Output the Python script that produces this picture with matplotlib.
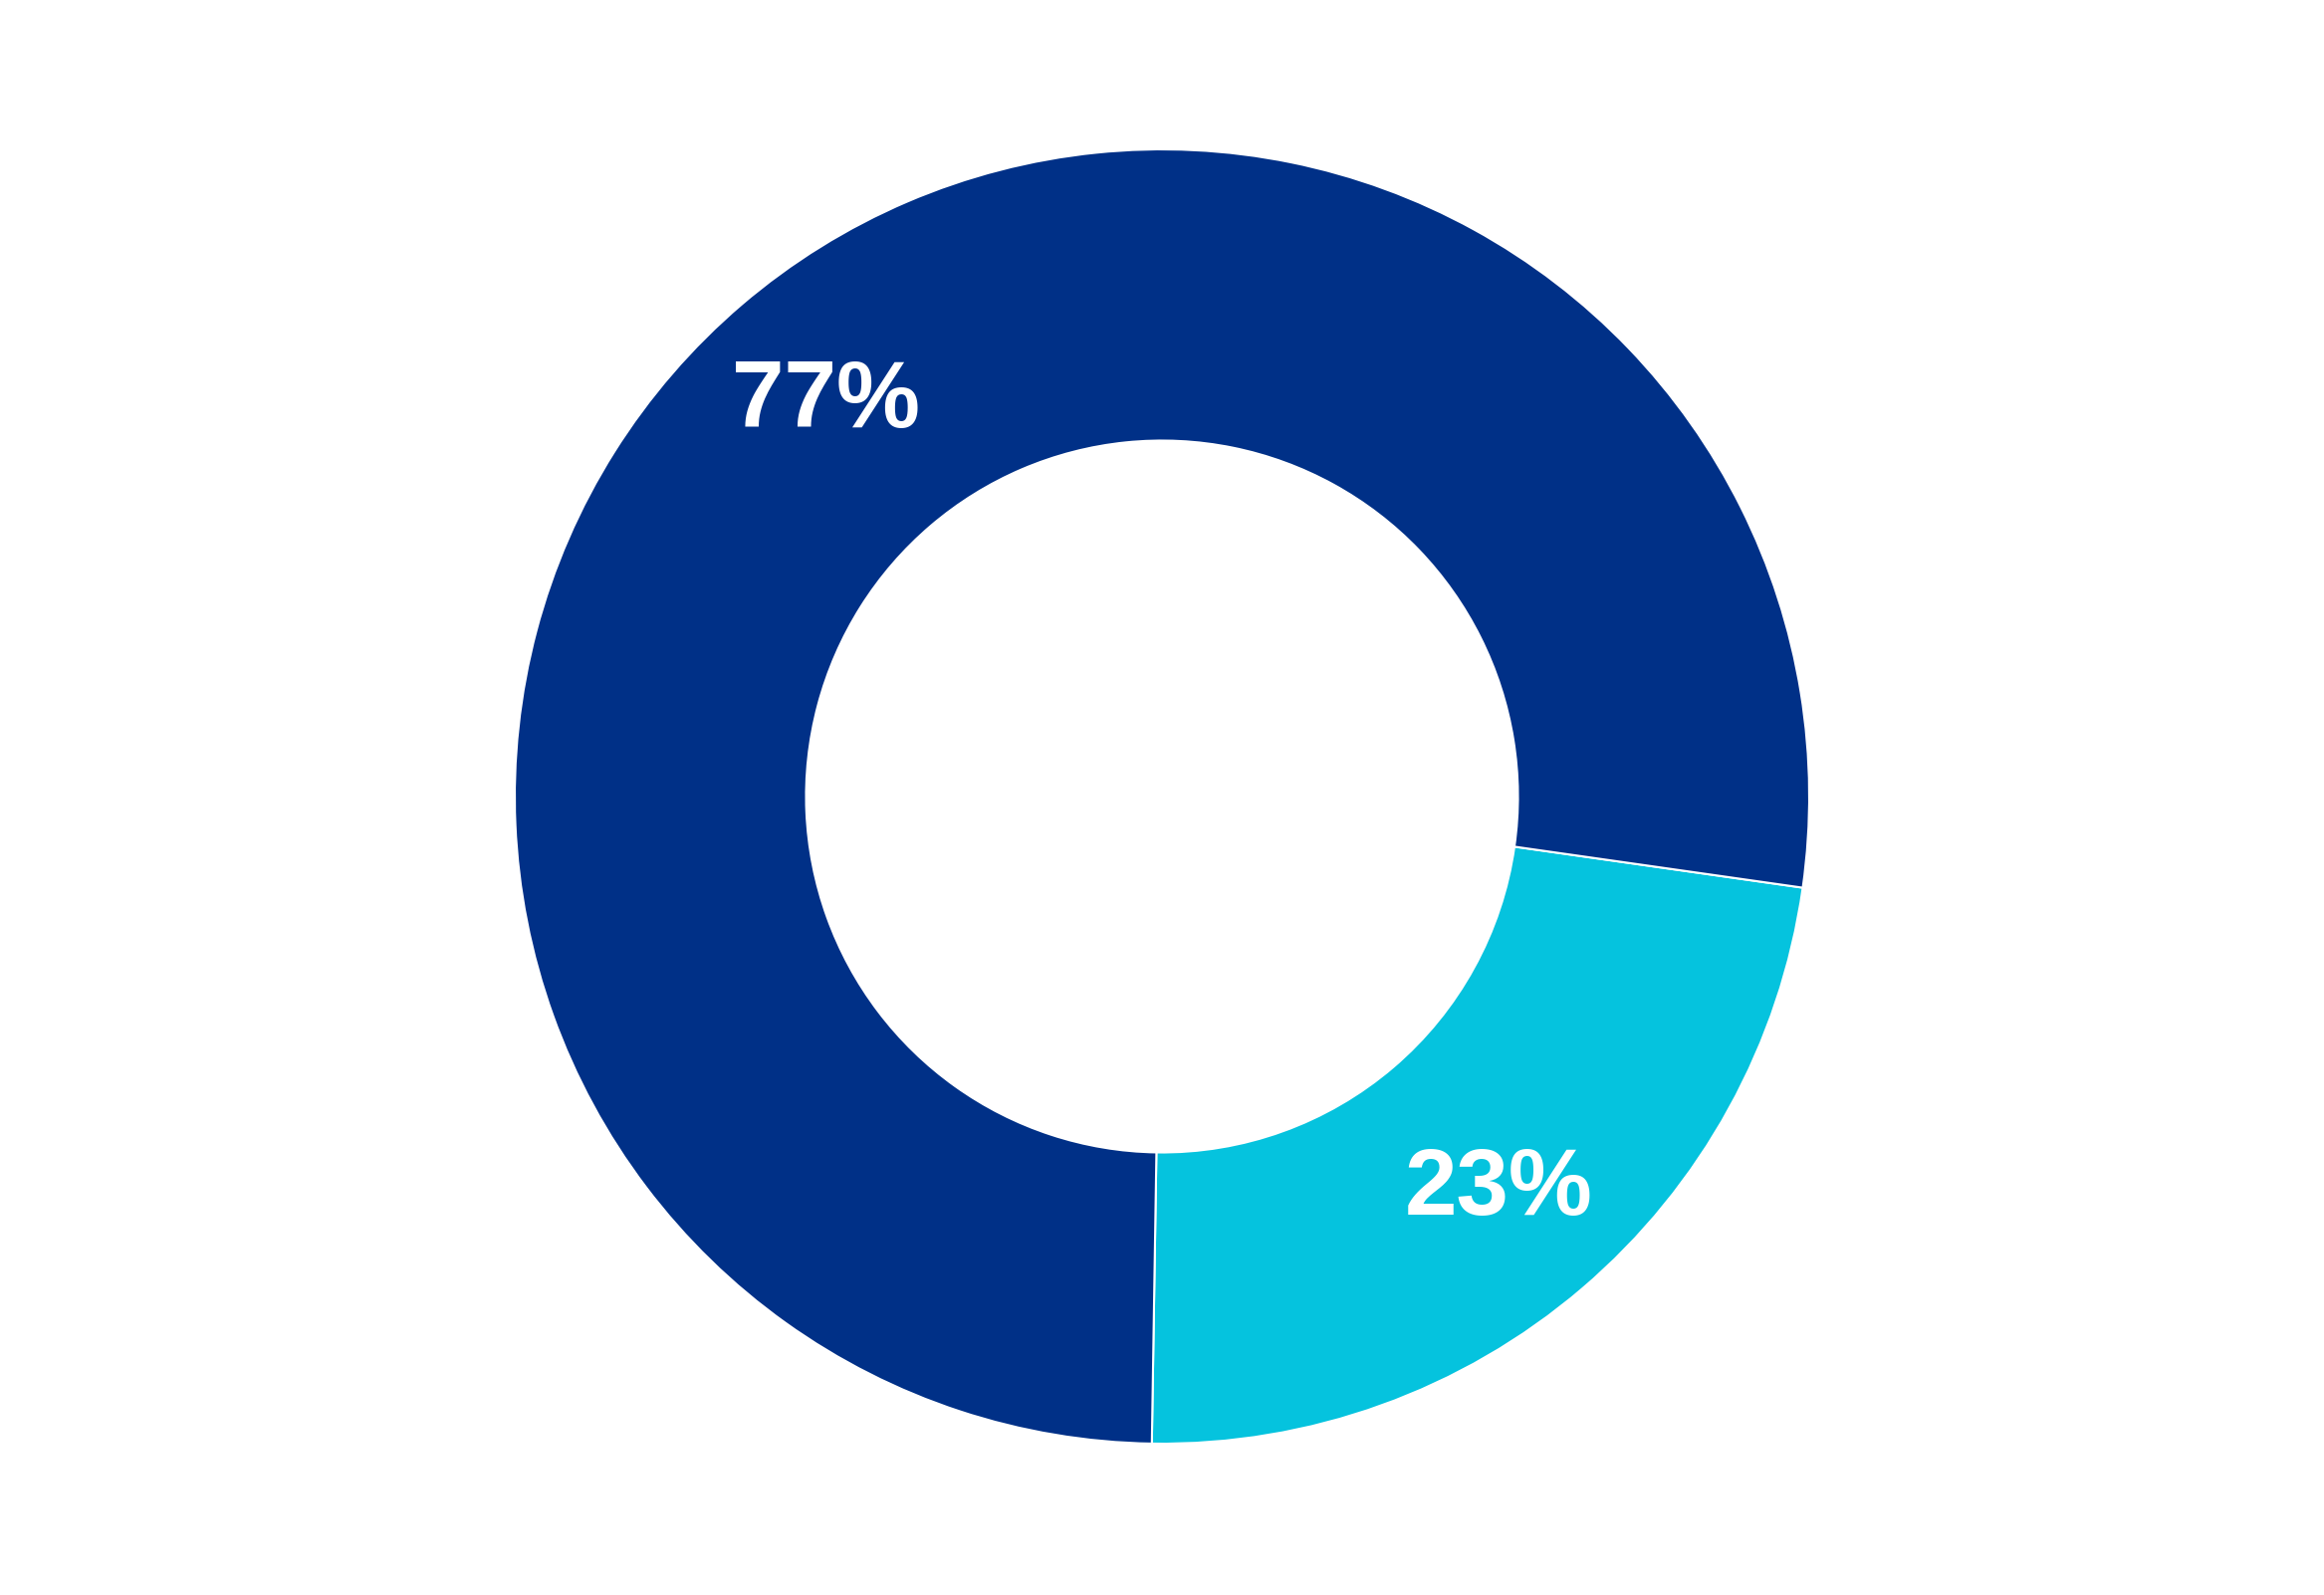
import matplotlib.pyplot as plt

# data
labels = ['B', 'A']
values = [23, 77]
colors = ['#05C3DE', '#003087']

fig = plt.figure(figsize=(23.34, 16.02), dpi=100)
ax = fig.add_axes([0, 0, 1, 1])

wedges, texts, autotexts = ax.pie(
    values, colors=colors, startangle=-90.9, counterclock=True,
    radius=650, center=(1167, 802),
    autopct='%1.0f%%', pctdistance=0.8,
    wedgeprops=dict(width=650 * 0.45, edgecolor='white', linewidth=1.5),
    textprops=dict(color='white', fontsize=68, fontweight='bold',
                   family='Liberation Sans'))

ax.set_xlim(0, 2334)
ax.set_ylim(0, 1602)
ax.set_aspect('equal')
ax.axis('off')

fig.savefig('out.png', dpi=100, facecolor='white')
